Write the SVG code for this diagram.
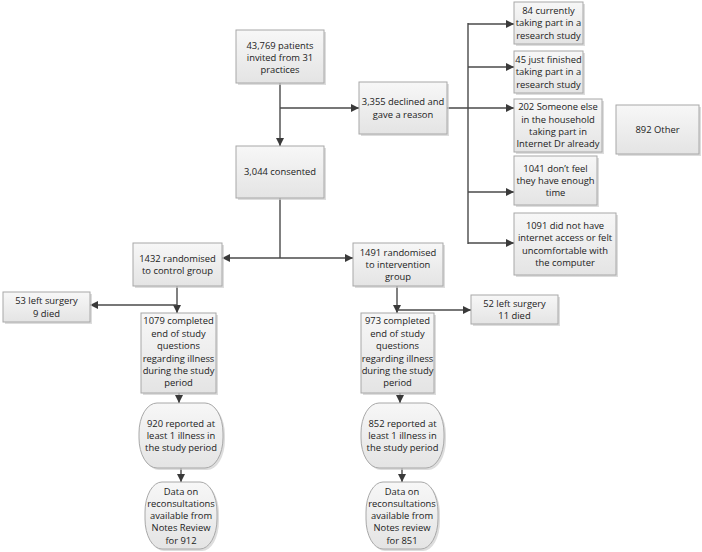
<svg xmlns="http://www.w3.org/2000/svg" width="702" height="552" viewBox="0 0 702 552">
<defs>
<linearGradient id="g" x1="0" y1="0" x2="0" y2="1">
<stop offset="0" stop-color="#f7f7f7"/>
<stop offset="1" stop-color="#e4e4e4"/>
</linearGradient>
<marker id="arr" markerUnits="userSpaceOnUse" markerWidth="9" markerHeight="8" refX="8" refY="4" orient="auto">
<path d="M0,0 L8,4 L0,8 Z" fill="#3a3a3a"/>
</marker>
</defs>
<style>
.b{fill:url(#g);stroke:#a8a8a8;stroke-width:1}
.s{fill:#cfcfcf;stroke:none;opacity:0.7}
.t{font-family:"Open Sans","Liberation Sans",sans-serif;font-size:9.4px;fill:#222;text-anchor:middle}
.c{fill:none;stroke:#4a4a4a;stroke-width:1.4}
.a{marker-end:url(#arr)}
</style>
<rect width="702" height="552" fill="#fff"/>
<g id="connectors">
<path class="c a" d="M280,83 V146"/>
<path class="c a" d="M280,108 H359"/>
<path class="c" d="M447,108 H468 M468,23 V244"/>
<path class="c a" d="M468,24 H514"/>
<path class="c a" d="M468,67 H514"/>
<path class="c a" d="M468,108 H514"/>
<path class="c a" d="M468,192 H514"/>
<path class="c a" d="M468,243 H514"/>
<path class="c" d="M280,198 V258"/>
<path class="c a" d="M280,258 H222"/>
<path class="c a" d="M280,258 H353"/>
<path class="c a" d="M177,286 V313"/>
<path class="c a" d="M177,305 H90"/>
<path class="c a" d="M397,286 V313"/>
<path class="c a" d="M397,310 H471"/>
<path class="c a" d="M179,393 V403"/>
<path class="c a" d="M181,468 V482"/>
<path class="c a" d="M400,393 V403"/>
<path class="c a" d="M402,468 V482"/>
</g>
<g id="n_invited">
<rect class="s" x="238" y="32" width="88" height="53"/>
<rect class="b" x="236" y="30" width="88" height="53"/>
<text class="t"><tspan x="280" y="48.5">43,769 patients</tspan><tspan x="280" y="60.8">invited from 31</tspan><tspan x="280" y="73.1">practices</tspan></text>
</g>
<g id="n_declined">
<rect class="s" x="361" y="84" width="88" height="52"/>
<rect class="b" x="359" y="82" width="88" height="52"/>
<text class="t"><tspan x="403" y="105.2">3,355 declined and</tspan><tspan x="403" y="117.5">gave a reason</tspan></text>
</g>
<g id="n_consented">
<rect class="s" x="238" y="148" width="88" height="52"/>
<rect class="b" x="236" y="146" width="88" height="52"/>
<text class="t"><tspan x="280" y="175.3">3,044 consented</tspan></text>
</g>
<g id="n_r84">
<rect class="s" x="516" y="4" width="69" height="42"/>
<rect class="b" x="514" y="2" width="69" height="42"/>
<text class="t"><tspan x="548.5" y="14">84 currently</tspan><tspan x="548.5" y="26.3">taking part in a</tspan><tspan x="548.5" y="38.6">research study</tspan></text>
</g>
<g id="n_r45">
<rect class="s" x="516" y="53" width="69" height="42"/>
<rect class="b" x="514" y="51" width="69" height="42"/>
<text class="t"><tspan x="548.5" y="63">45 just finished</tspan><tspan x="548.5" y="75.3">taking part in a</tspan><tspan x="548.5" y="87.6">research study</tspan></text>
</g>
<g id="n_r202">
<rect class="s" x="516" y="101" width="88" height="53"/>
<rect class="b" x="514" y="99" width="88" height="53"/>
<text class="t"><tspan x="558" y="110.4">202 Someone else</tspan><tspan x="558" y="122.7">in the household</tspan><tspan x="558" y="135">taking part in</tspan><tspan x="558" y="147.3">Internet Dr already</tspan></text>
</g>
<g id="n_r1041">
<rect class="s" x="516" y="158" width="83" height="49"/>
<rect class="b" x="514" y="156" width="83" height="49"/>
<text class="t"><tspan x="555.5" y="171.5">1041 don’t feel</tspan><tspan x="555.5" y="183.8">they have enough</tspan><tspan x="555.5" y="196.1">time</tspan></text>
</g>
<g id="n_r1091">
<rect class="s" x="516" y="215" width="102" height="62"/>
<rect class="b" x="514" y="213" width="102" height="62"/>
<text class="t"><tspan x="565" y="229">1091 did not have</tspan><tspan x="565" y="241.3">internet access or felt</tspan><tspan x="565" y="253.6">uncomfortable with</tspan><tspan x="565" y="265.9">the computer</tspan></text>
</g>
<g id="n_other">
<rect class="s" x="618" y="107" width="83" height="49"/>
<rect class="b" x="616" y="105" width="83" height="49"/>
<text class="t"><tspan x="657.5" y="132.8">892 Other</tspan></text>
</g>
<g id="n_control">
<rect class="s" x="135" y="245" width="89" height="43"/>
<rect class="b" x="133" y="243" width="89" height="43"/>
<text class="t"><tspan x="177.5" y="261.7">1432 randomised</tspan><tspan x="177.5" y="274">to control group</tspan></text>
</g>
<g id="n_intervention">
<rect class="s" x="355" y="245" width="90" height="43"/>
<rect class="b" x="353" y="243" width="90" height="43"/>
<text class="t"><tspan x="398" y="255.5">1491 randomised</tspan><tspan x="398" y="267.8">to intervention</tspan><tspan x="398" y="280.1">group</tspan></text>
</g>
<g id="n_left53">
<rect class="s" x="5" y="294" width="87" height="30"/>
<rect class="b" x="3" y="292" width="87" height="30"/>
<text class="t"><tspan x="46.5" y="304.2">53 left surgery</tspan><tspan x="46.5" y="316.5">9 died</tspan></text>
</g>
<g id="n_completed1079">
<rect class="s" x="143" y="315" width="75" height="80"/>
<rect class="b" x="141" y="313" width="75" height="80"/>
<text class="t"><tspan x="178.5" y="324.3">1079 completed</tspan><tspan x="178.5" y="336.7">end of study</tspan><tspan x="178.5" y="349.1">questions</tspan><tspan x="178.5" y="361.5">regarding illness</tspan><tspan x="178.5" y="373.9">during the study</tspan><tspan x="178.5" y="386.3">period</tspan></text>
</g>
<g id="n_completed973">
<rect class="s" x="363" y="315" width="73" height="80"/>
<rect class="b" x="361" y="313" width="73" height="80"/>
<text class="t"><tspan x="397.5" y="324.3">973 completed</tspan><tspan x="397.5" y="336.7">end of study</tspan><tspan x="397.5" y="349.1">questions</tspan><tspan x="397.5" y="361.5">regarding illness</tspan><tspan x="397.5" y="373.9">during the study</tspan><tspan x="397.5" y="386.3">period</tspan></text>
</g>
<g id="n_left52">
<rect class="s" x="473" y="297" width="87" height="29"/>
<rect class="b" x="471" y="295" width="87" height="29"/>
<text class="t"><tspan x="514.5" y="306.8">52 left surgery</tspan><tspan x="514.5" y="319.1">11 died</tspan></text>
</g>
<g id="n_ill920">
<rect class="s" x="141" y="405" width="84" height="65" rx="18" ry="30"/>
<rect class="b" x="139" y="403" width="84" height="65" rx="18" ry="30"/>
<text class="t"><tspan x="181" y="426.5">920 reported at</tspan><tspan x="181" y="438.8">least 1 illness in</tspan><tspan x="181" y="451.1">the study period</tspan></text>
</g>
<g id="n_ill852">
<rect class="s" x="363" y="405" width="83" height="65" rx="18" ry="30"/>
<rect class="b" x="361" y="403" width="83" height="65" rx="18" ry="30"/>
<text class="t"><tspan x="402.5" y="426.5">852 reported at</tspan><tspan x="402.5" y="438.8">least 1 illness in</tspan><tspan x="402.5" y="451.1">the study period</tspan></text>
</g>
<g id="n_data912">
<rect class="s" x="147" y="484" width="72" height="67" rx="17" ry="30"/>
<rect class="b" x="145" y="482" width="72" height="67" rx="17" ry="30"/>
<text class="t"><tspan x="181" y="494.5">Data on</tspan><tspan x="181" y="506.8">reconsultations</tspan><tspan x="181" y="519.1">available from</tspan><tspan x="181" y="531.4">Notes Review</tspan><tspan x="181" y="543.7">for 912</tspan></text>
</g>
<g id="n_data851">
<rect class="s" x="368" y="484" width="72" height="67" rx="17" ry="30"/>
<rect class="b" x="366" y="482" width="72" height="67" rx="17" ry="30"/>
<text class="t"><tspan x="402" y="494.5">Data on</tspan><tspan x="402" y="506.8">reconsultations</tspan><tspan x="402" y="519.1">available from</tspan><tspan x="402" y="531.4">Notes review</tspan><tspan x="402" y="543.7">for 851</tspan></text>
</g>
</svg>
